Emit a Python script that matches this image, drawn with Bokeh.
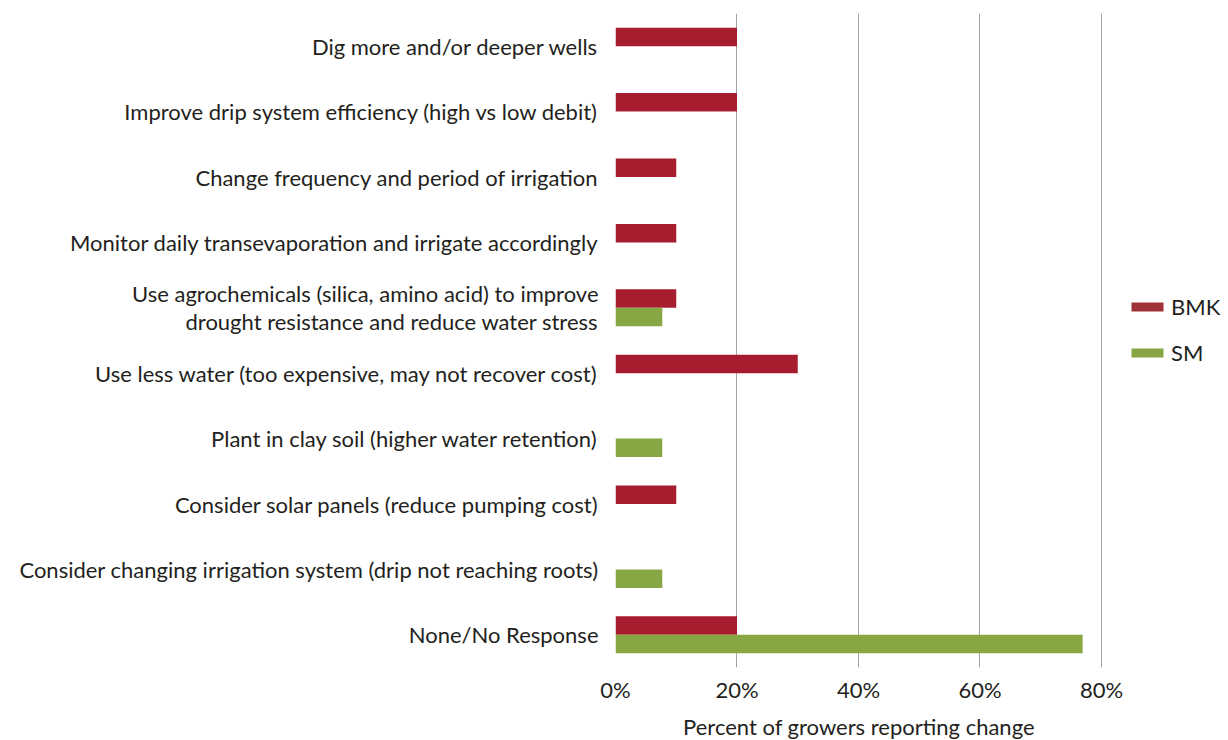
from bokeh.plotting import figure
from bokeh.models import FactorRange, Range1d, FixedTicker, PrintfTickFormatter, Legend, LegendItem, ColumnDataSource
from bokeh.transform import dodge
from bokeh.embed import file_html
from bokeh.resources import INLINE

categories = [
    "Dig more and/or deeper wells",
    "Improve drip system efficiency (high vs low debit)",
    "Change frequency and period of irrigation",
    "Monitor daily transevaporation and irrigate accordingly",
    "Use agrochemicals (silica, amino acid) to improve\ndrought resistance and reduce water stress",
    "Use less water (too expensive, may not recover cost)",
    "Plant in clay soil (higher water retention)",
    "Consider solar panels (reduce pumping cost)",
    "Consider changing irrigation system (drip not reaching roots)",
    "None/No Response",
]
bmk = [20, 20, 10, 10, 10, 30, 0, 10, 0, 20]
sm = [0, 0, 0, 0, 7.7, 0, 7.7, 0, 7.7, 76.9]
x_ticks = [0, 20, 40, 60, 80]

FONT = "Lato"
FS = "22px"
TXT = "#231F20"

src = ColumnDataSource(dict(cat=categories, bmk=bmk, sm=sm))

p = figure(
    y_range=FactorRange(*reversed(categories), range_padding=0),
    x_range=Range1d(0, 80.17),
    frame_width=487, frame_height=654,
    min_border_left=615, min_border_top=13, min_border_bottom=72, min_border_right=0,
    output_backend="svg", toolbar_location=None,
)
p.outline_line_color = None

p.hbar(y=dodge("cat", 0.1415, range=p.y_range), right="bmk", left=0, height=0.283,
       source=src, fill_color="#A51D2E", line_color=None)
p.hbar(y=dodge("cat", -0.1415, range=p.y_range), right="sm", left=0, height=0.283,
       source=src, fill_color="#86A743", line_color=None)

# legend swatches (zero-width bars, only used for the legend)
e1 = p.hbar(y=[categories[0]], right=[0], left=[0], height=0.01, fill_color="#9F3139", line_color=None)
e2 = p.hbar(y=[categories[0]], right=[0], left=[0], height=0.01, fill_color="#88A545", line_color=None)

legend = Legend(items=[LegendItem(label="BMK", renderers=[e1]), LegendItem(label="SM", renderers=[e2])],
                location=(25, 301), orientation="vertical",
                glyph_width=40, glyph_height=11, label_height=22, spacing=19,
                label_standoff=4, padding=0, margin=0, border_line_color=None,
                label_text_font=FONT, label_text_font_size=FS, label_text_color=TXT,
                background_fill_alpha=0)
p.add_layout(legend, "right")

p.xgrid.ticker = FixedTicker(ticks=x_ticks)
p.xgrid.grid_line_color = "#A0A0A0"
p.xgrid.grid_line_width = 1
p.ygrid.grid_line_color = None

p.xaxis.ticker = FixedTicker(ticks=x_ticks)
p.xaxis.formatter = PrintfTickFormatter(format="%d%%")
p.xaxis.axis_line_color = None
p.xaxis.major_tick_line_color = None
p.xaxis.minor_tick_line_color = None
p.xaxis.major_label_standoff = 2
p.xaxis.major_label_text_font = FONT
p.xaxis.major_label_text_font_size = FS
p.xaxis.major_label_text_color = TXT
p.xaxis.axis_label = "Percent of growers reporting change"
p.xaxis.axis_label_text_font = FONT
p.xaxis.axis_label_text_font_size = FS
p.xaxis.axis_label_text_font_style = "normal"
p.xaxis.axis_label_text_color = TXT
p.xaxis.axis_label_standoff = 7

p.yaxis.axis_line_color = None
p.yaxis.major_tick_line_color = None
p.yaxis.minor_tick_line_color = None
p.yaxis.major_label_standoff = 11
p.yaxis.major_label_text_font = FONT
p.yaxis.major_label_text_font_size = FS
p.yaxis.major_label_text_color = TXT
p.yaxis.major_label_text_line_height = 1.05

open("out.html", "w").write(file_html(p, INLINE))
